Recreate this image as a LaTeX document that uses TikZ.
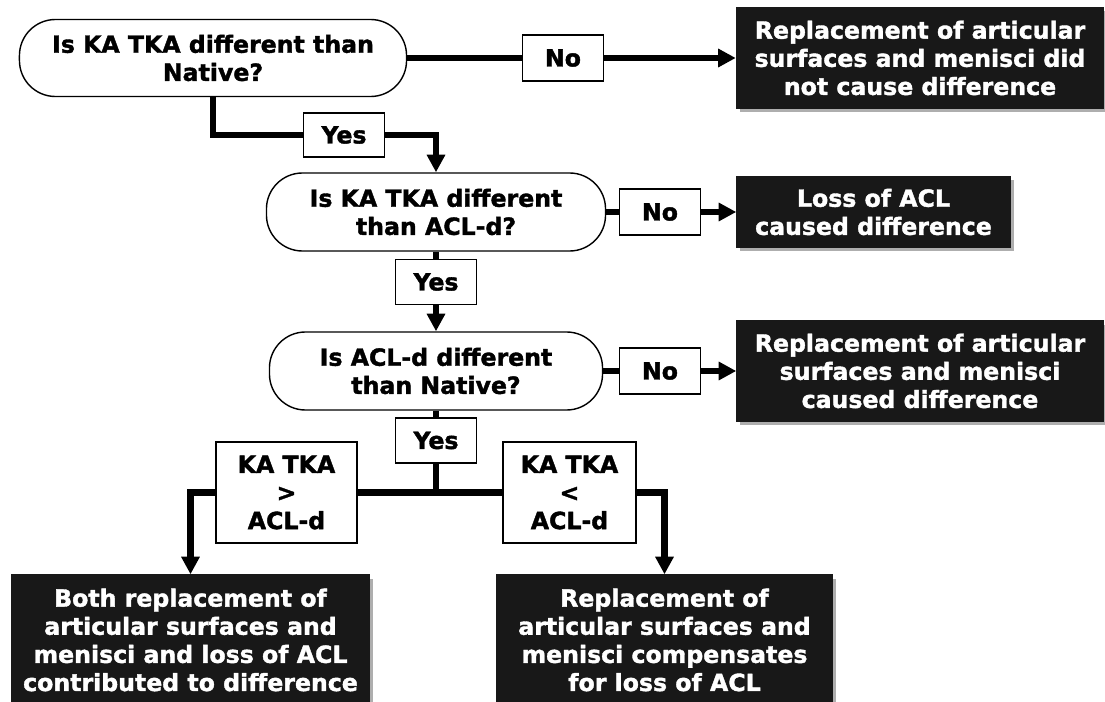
\documentclass[tikz,border=0pt]{standalone}
\usepackage{fontspec}
\setmainfont{DejaVu Sans}[BoldFeatures={FakeBold=1.6}]
\usepackage{tikz}
\usetikzlibrary{arrows.meta,positioning,shapes,shadows}
\definecolor{boxblack}{RGB}{24,24,24}
\tikzset{
  % base box
  box/.style={
    draw=black,
    line width=1pt,
    fill=white,
    align=center,
    inner sep=0pt,
    font=\fontsize{16.8}{20}\selectfont\bfseries
  },
  % question (stadium)
  question/.style={box, rounded corners=0.9cm},
  % Yes / No labels
  tag/.style={box, minimum width=2.02cm, minimum height=1.15cm},
  % outcome boxes
  result/.style={
    box,
    fill=boxblack,
    draw=boxblack,
    text=white,
    drop shadow={shadow xshift=2.5pt, shadow yshift=-2.5pt, fill=black!45, opacity=0.7}
  },
  % connectors
  link/.style={line width=4.3pt},
  arr/.style={link, -{Triangle[width=12.5pt,length=12.5pt]}},
}

\begin{document}
\begin{tikzpicture}[x=0.025cm, y=-0.025cm]
  \useasboundingbox (0,0) rectangle (1105,702);
  \clip (0,0) rectangle (1105,702);

  % questions
  \node[question, minimum width=9.675cm, minimum height=1.925cm] (q1) at (213,58) {Is KA TKA different than\\Native?};
  \node[question, minimum width=8.475cm, minimum height=1.95cm] (q2) at (436,212) {Is KA TKA different\\than ACL-d?};
  \node[question, minimum width=8.325cm, minimum height=1.95cm] (q3) at (436,371) {Is ACL-d different\\than Native?};

  % labels
  \node[tag] (no1) at (563,58) {No};
  \node[tag] (no2) at (660,212) {No};
  \node[tag] (no3) at (660,371) {No};
  \node[tag, minimum height=1.1cm] (yes1) at (344,135) {Yes};
  \node[tag, minimum height=1.125cm] (yes2) at (436,282) {Yes};
  \node[tag, minimum height=1.125cm] (yes3) at (436,440.5) {Yes};
  \node[box, minimum width=3.525cm, minimum height=2.525cm] (gt) at (286.5,492.5) {KA TKA\\>\\ACL-d};
  \node[box, minimum width=3.325cm, minimum height=2.525cm] (lt) at (569.5,492.5) {KA TKA\\<\\ACL-d};

  % outcomes
  \node[result, minimum width=9.175cm, minimum height=2.5cm] (r1) at (920,58) {Replacement of articular\\surfaces and menisci did\\not cause difference};
  \node[result, minimum width=6.825cm, minimum height=1.775cm] (r2) at (873.5,212) {Loss of ACL\\caused difference};
  \node[result, minimum width=9.15cm, minimum height=2.5cm] (r3) at (920,371) {Replacement of articular\\surfaces and menisci\\caused difference};
  \node[result, minimum width=8.925cm, minimum height=3.25cm] (b1) at (190.5,640) {Both replacement of\\articular surfaces and\\menisci and loss of ACL\\contributed to difference};
  \node[result, minimum width=8.375cm, minimum height=3.25cm] (b2) at (664.5,640) {Replacement of\\articular surfaces and\\menisci compensates\\for loss of ACL};

  % connectors
  \draw[link] (q1.east) -- (no1.west);
  \draw[arr] (no1.east) -- (r1.west);
  \draw[link] (q1.south) |- (yes1.west);
  \draw[arr] (yes1.east) -| (q2.north);

  \draw[link] (q2.east) -- (no2.west);
  \draw[arr] (no2.east) -- (r2.west);
  \draw[link] (q2.south) -- (yes2.north);
  \draw[arr] (yes2.south) -- (q3.north);

  \draw[link] (q3.east) -- (no3.west);
  \draw[arr] (no3.east) -- (r3.west);
  \draw[link] (q3.south) -- (yes3.north);
  \draw[link] (yes3.south) -- (yes3.south |- gt.east);
  \draw[link] (gt.east) -- (lt.west);
  \draw[arr] (gt.west) -| (b1.north);
  \draw[arr] (lt.east) -| (b2.north);
\end{tikzpicture}
\end{document}
